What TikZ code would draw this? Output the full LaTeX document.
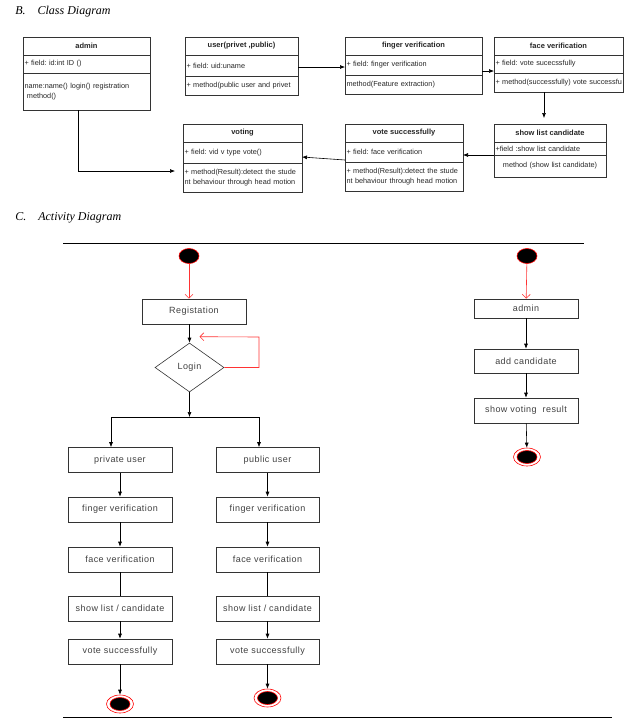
\documentclass[tikz,border=0pt]{standalone}
\usepackage{fontspec}
\setmainfont{Liberation Sans}
\newfontfamily\titlefont{Liberation Serif}
\newfontfamily\actfont[LetterSpace=5]{Liberation Sans}
\usetikzlibrary{arrows.meta,positioning,calc,shapes.geometric}
\frenchspacing

\tikzset{
  classhead/.style={draw=black!80, minimum width=#1, minimum height=18pt, inner sep=0pt, outer sep=0pt,
    text=black!85, font=\fontsize{7.5}{9}\selectfont\bfseries},
  classrow/.style 2 args={draw=black!80, text width=#1, minimum height=#2, inner xsep=1.5pt, inner ysep=0pt,
    outer sep=0pt, align=left, text=black!85, font=\fontsize{7.3}{9.3}\selectfont},
  actbox/.style={draw=black!80, minimum width=104pt, minimum height=25pt, inner sep=0pt,
    text=black!75, font=\actfont\fontsize{9}{11}\selectfont},
  decision/.style={diamond, draw=black!80, minimum width=69pt, minimum height=49pt, inner sep=0pt,
    text=black!75, font=\actfont\fontsize{9}{11}\selectfont},
  startnode/.style={ellipse, draw=red, fill=black, minimum width=20pt, minimum height=15pt, inner sep=0pt},
  endnode/.style={ellipse, draw=red, minimum width=27pt, minimum height=18pt, inner sep=0pt,
    path picture={\draw[red, fill=black] (path picture bounding box.center) ellipse (10pt and 6.5pt);}},
  title/.style={anchor=west, inner sep=0pt, font=\titlefont\itshape\fontsize{12}{14}\selectfont},
  arr/.style={-{Latex[length=5pt,width=4pt]}, black},
  redarr/.style={-{Straight Barb[length=4pt,width=8pt]}, red!80}
}

\begin{document}
\begin{tikzpicture}[x=1pt, y=-1pt, line width=0.6pt]
  \useasboundingbox (0,0) rectangle (635,724);

  % class diagram
  \node (titleB) [title] at (15,12) {B.\hspace{12pt}Class Diagram};

  \node (adminH) [classhead=127pt, anchor=north west] at (23,37) {admin};
  \node (adminF) [classrow={124pt}{18pt}, below=0pt of adminH] {+ field: id:int ID ()};
  \node (adminM) [classrow={124pt}{37pt}, below=0pt of adminF] {name:name() login() registration\\\ method()};

  \node (userH) [classhead=113pt, anchor=north west] at (185,37) {user(privet ,public)};
  \node (userF) [classrow={110pt}{21pt}, below=0pt of userH] {+ field: uid:uname};
  \node (userM) [classrow={110pt}{19pt}, below=0pt of userF] {\mbox{+ method(public user and privet}};

  \node (fingerH) [classhead=137pt, anchor=north west] at (345,37) {finger verification};
  \node (fingerF) [classrow={134pt}{20pt}, below=0pt of fingerH] {+ field: finger verification};
  \node (fingerM) [classrow={134pt}{19pt}, below=0pt of fingerF] {method(Feature extraction)};

  \node (faceH) [classhead=129pt, anchor=north west] at (494,37) {face verification};
  \node (faceF) [classrow={126pt}{18pt}, below=0pt of faceH] {+ field: vote sucecssfully};
  \node (faceM) [classrow={126pt}{19pt}, below=0pt of faceF] {\mbox{+ method(successfully) vote successfu}};

  \node (showH) [classhead=112pt, anchor=north west] at (494,124) {show list candidate};
  \node (showF) [classrow={109pt}{13pt}, below=0pt of showH] {+field :show list candidate};
  \node (showM) [classrow={109pt}{22pt}, align=center, below=0pt of showF] {method (show list candidate)};

  \node (voteH) [classhead=118pt, anchor=north west] at (345,124) {vote successfully};
  \node (voteF) [classrow={115pt}{20pt}, below=0pt of voteH] {+ field: face verification};
  \node (voteM) [classrow={115pt}{29pt}, below=0pt of voteF] {+ method(Result):detect the stude\\nt behaviour through head motion};

  \node (votingH) [classhead=119pt, anchor=north west] at (183,124) {voting};
  \node (votingF) [classrow={116pt}{21pt}, below=0pt of votingH] {+ field: vid v type vote()};
  \node (votingM) [classrow={116pt}{29pt}, below=0pt of votingF] {+ method(Result):detect the stude\\nt behaviour through head motion};

  \coordinate (showIn) at ([xshift=-6pt]showH.north);

  \draw[arr] ([yshift=-1.5pt]userF.east) -- ([yshift=-1.5pt]userF.east -| fingerF.west);
  \draw[arr] ([yshift=-6pt]fingerF.east) -- ([yshift=-6pt]fingerF.east -| faceF.west);
  \draw[arr, shorten >=6pt] (faceM.south -| showIn) -- (showIn);
  \draw[arr] (showF.south west) -- (showF.south west -| voteF.east);
  \draw[arr] ([yshift=2pt]voteF.south west) -- ([yshift=6pt]votingF.south east);
  \draw[arr, shorten >=8pt] ([xshift=-8.5pt]adminM.south) |- ([yshift=6.5pt]votingM.west);

  % activity diagram
  \node (titleC) [title] at (15,218) {C.\hspace{12pt}Activity Diagram};
  \draw[line width=0.9pt] (63,243) -- (584,243);
  \draw[line width=0.9pt] (63,717) -- (612,717);

  \node (regStart) [startnode] at (189,256) {};
  \node (reg) [actbox] at (194,311.5) {Registation};
  \node (login) [decision] at (189.5,367.5) {Login};
  \coordinate (loopR) at (259,337);
  \coordinate (split) at (189.5,417);
  \coordinate (splitL) at (111,417);
  \coordinate (splitR) at (259,417);

  \node (privUser)  [actbox] at (120,460) {private user};
  \node (privFing)  [actbox] at (120,509.5) {finger verification};
  \node (privFace)  [actbox] at (120,559.5) {face verification};
  \node (privShow)  [actbox] at (120,608.5) {show list / candidate};
  \node (privVote)  [actbox] at (120,651.5) {vote successfully};
  \node (privEnd)   [endnode] at (120,704) {};

  \node (pubUser)  [actbox, minimum width=103pt] at (267.5,460) {public user};
  \node (pubFing)  [actbox, minimum width=103pt] at (267.5,509.5) {finger verification};
  \node (pubFace)  [actbox, minimum width=103pt] at (267.5,559.5) {face verification};
  \node (pubShow)  [actbox, minimum width=103pt] at (267.5,608.5) {show list / candidate};
  \node (pubVote)  [actbox, minimum width=103pt] at (267.5,651.5) {vote successfully};
  \node (pubEnd)   [endnode] at (267.5,698) {};

  \node (adStart) [startnode] at (527,256) {};
  \node (adAdmin) [actbox, minimum height=19pt] at (526,308.5) {admin};
  \node (adCand)  [actbox, minimum height=24pt] at (526,361) {add candidate};
  \node (adResult) [actbox] at (526,410.5) {show voting\ \ result};
  \node (adEnd)   [endnode] at (527,457) {};

  \draw[redarr] (regStart) -- (regStart |- reg.north);
  \draw[arr] (reg.south -| login) -- (login.north);
  \draw[redarr] (login.east) -| (loopR) -- ($(login.north)+(10,-6)$);
  \draw[arr] (login.south) -- (split);
  \draw (splitL) -- (splitR);
  \draw[arr] (splitL) -- (splitL |- privUser.north);
  \draw[arr] (splitR) -- (splitR |- pubUser.north);

  \draw[arr] (privUser) -- (privFing);
  \draw[arr] (privFing) -- (privFace);
  \draw (privFace) -- (privShow);
  \draw[arr] (privShow) -- (privVote);
  \draw[arr] (privVote) -- (privEnd);

  \draw[arr] (pubUser) -- (pubFing);
  \draw[arr] (pubFing) -- (pubFace);
  \draw (pubFace) -- (pubShow);
  \draw[arr] (pubShow) -- (pubVote);
  \draw[arr] (pubVote) -- (pubEnd);

  \draw[redarr] (adStart) -- (adAdmin);
  \draw[arr] (adAdmin) -- (adCand);
  \draw[arr] (adCand) -- (adResult);
  \draw[arr] (adResult) -- (adEnd);
\end{tikzpicture}
\end{document}
